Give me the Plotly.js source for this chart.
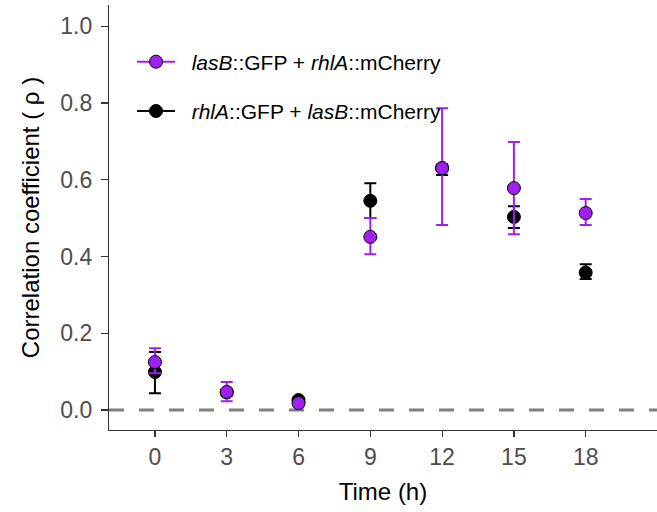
<!DOCTYPE html>
<html><head><meta charset="utf-8">
<script src="https://cdn.plot.ly/plotly-3.0.1.min.js"></script>
<style>body{margin:0;padding:0;background:#fff}</style>
</head><body><div id="chart" style="width:657px;height:512px"></div>
<script>
const timeH = [0, 3, 6, 9, 12, 15, 18];
const lasGfpMean = [0.125, 0.047, 0.018, 0.451, 0.630, 0.578, 0.513];
const lasGfpUpper = [0.161, 0.073, 0.024, 0.500, 0.786, 0.698, 0.550];
const lasGfpLower = [0.096, 0.023, 0.014, 0.406, 0.482, 0.458, 0.482];
const rhlGfpMean = [0.099, 0.046, 0.026, 0.545, 0.630, 0.503, 0.358];
const rhlGfpUpper = [0.151, 0.055, 0.032, 0.591, 0.640, 0.531, 0.380];
const rhlGfpLower = [0.044, 0.037, 0.020, 0.500, 0.612, 0.474, 0.341];
const xTicks = [0, 3, 6, 9, 12, 15, 18];
const yTicks = [0, 0.2, 0.4, 0.6, 0.8, 1.0];
const seriesNames = ['<i>lasB</i>::GFP + <i>rhlA</i>::mCherry', '<i>rhlA</i>::GFP + <i>lasB</i>::mCherry'];
const seriesColors = ['#A020F0', '#000000'];

function mk(mean, up, lo, color) {
  return {
    x: timeH, y: mean, type: 'scatter', mode: 'markers', showlegend: false,
    marker: {color: color, size: 13, line: {color: '#000', width: 1}},
    error_y: {type: 'data', symmetric: false,
      array: up.map((u, i) => u - mean[i]),
      arrayminus: lo.map((l, i) => mean[i] - l),
      color: color, thickness: 2, width: 6}
  };
}
function legendEntry(name, color, grp) {
  return {x: [null], y: [null], type: 'scatter', mode: 'lines+markers',
    name: '\u00a0\u00a0' + name,
    legendgroup: grp,
    line: {color: color, width: 2},
    marker: {color: color, size: 13, line: {color: '#000', width: 1}}};
}
const traces = [
  mk(rhlGfpMean, rhlGfpUpper, rhlGfpLower, seriesColors[1]),
  mk(lasGfpMean, lasGfpUpper, lasGfpLower, seriesColors[0]),
  legendEntry(seriesNames[0], seriesColors[0], 'a'),
  legendEntry(seriesNames[1], seriesColors[1], 'b')
];
const layout = {
  width: 657, height: 512,
  margin: {l: 109, r: 0, t: 5, b: 82},
  paper_bgcolor: '#fff', plot_bgcolor: '#fff',
  font: {family: 'Liberation Sans, Arial, sans-serif', color: '#000'},
  showlegend: true,
  legend: {x: 0.042, y: 0.914, xanchor: 'left', yanchor: 'top', bgcolor: 'rgba(0,0,0,0)',
    font: {size: 21, color: '#000'}, tracegroupgap: 19, itemwidth: 38, traceorder: 'grouped'},
  xaxis: {range: [-1.92, 20.98], tickvals: xTicks, ticktext: xTicks.map(String),
    showgrid: false, zeroline: false, showline: true, linecolor: '#333', linewidth: 1.2,
    ticks: 'outside', ticklen: 6, tickcolor: '#333', tickwidth: 1.2,
    tickfont: {size: 23, color: '#4D4D4D'},
    title: {text: 'Time (h)', font: {size: 24, color: '#000'}, standoff: 14}},
  yaxis: {range: [-0.052, 1.055], tickvals: yTicks, ticktext: yTicks.map(v => v.toFixed(1)),
    showgrid: false, zeroline: false, showline: true, linecolor: '#333', linewidth: 1.2,
    ticks: 'outside', ticklen: 7, tickcolor: '#333', tickwidth: 1.2, ticklabelstandoff: 4,
    tickfont: {size: 23, color: '#4D4D4D'},
    title: {text: 'Correlation coefficient ( ρ )', font: {size: 24, color: '#000'}, standoff: 13}},
  shapes: [{type: 'line', xref: 'paper', x0: 0, x1: 1, yref: 'y', y0: 0, y1: 0,
    line: {color: '#7F7F7F', width: 3, dash: '15px,15px'}, layer: 'below'}]
};
Plotly.newPlot('chart', traces, layout, {displayModeBar: false, staticPlot: true});
</script></body></html>
